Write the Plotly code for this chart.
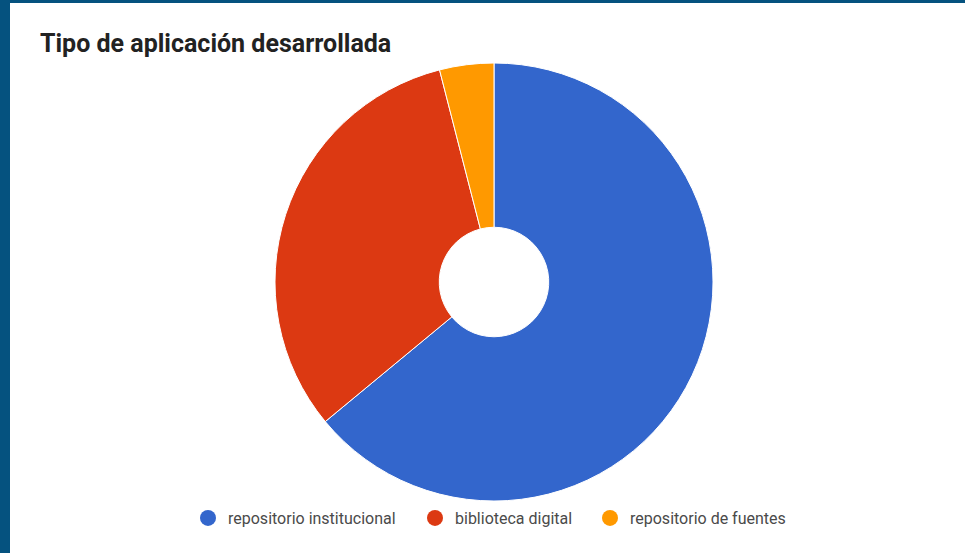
import plotly.graph_objects as go

categories = ["repositorio institucional", "biblioteca digital", "repositorio de fuentes"]
values = [16, 8, 1]
colors = ["#3366cc", "#dc3912", "#ff9900"]
legend_px = [208, 435, 610]  # legend symbol centre positions

W, H = 965, 553

fig = go.Figure()
cx, cy, d = 494, 282, 438
fig.add_trace(go.Pie(
    labels=categories, values=values, hole=0.25, sort=False,
    direction="clockwise", rotation=0,
    marker=dict(colors=colors, line=dict(color="white", width=1)),
    textinfo="none", showlegend=False,
    domain=dict(x=[(cx - d / 2) / W, (cx + d / 2) / W],
                y=[1 - (cy + d / 2) / H, 1 - (cy - d / 2) / H]),
))
legend_names = ["legend", "legend2", "legend3"]
for name, col, lg in zip(categories, colors, legend_names):
    fig.add_trace(go.Scatter(x=[None], y=[None], mode="markers", name=name, legend=lg,
                             marker=dict(symbol="circle", size=17, color=col)))

legend_common = dict(orientation="h", xanchor="left", y=1 - 518 / H, yanchor="middle",
                     font=dict(size=16, color="#4a4a4a"), bgcolor="rgba(0,0,0,0)")
layout_legends = {}
for lg, px in zip(legend_names, legend_px):
    layout_legends[lg] = dict(legend_common, x=(px - 20) / W)

fig.update_layout(
    width=W, height=H,
    margin=dict(l=0, r=0, t=0, b=0),
    paper_bgcolor="white", plot_bgcolor="white",
    font=dict(family="Roboto", color="#222222"),
    title=dict(text="<b>Tipo de aplicación desarrollada</b>",
               x=40 / W, xanchor="left", y=1 - 43 / H, yanchor="middle",
               xref="container", yref="container",
               font=dict(family="Roboto", size=25, color="#222222")),
    xaxis=dict(visible=False), yaxis=dict(visible=False),
    shapes=[
        dict(type="rect", xref="paper", yref="paper", x0=0, x1=10 / W, y0=0, y1=1,
             fillcolor="#05527f", line=dict(width=0), layer="above"),
        dict(type="rect", xref="paper", yref="paper", x0=0, x1=1, y0=1 - 3 / H, y1=1,
             fillcolor="#05527f", line=dict(width=0), layer="above"),
    ],
    **layout_legends,
)

fig.write_html("out.html", config={"displayModeBar": False},
               post_script="document.body.style.margin='0';document.body.style.overflow='hidden';")
